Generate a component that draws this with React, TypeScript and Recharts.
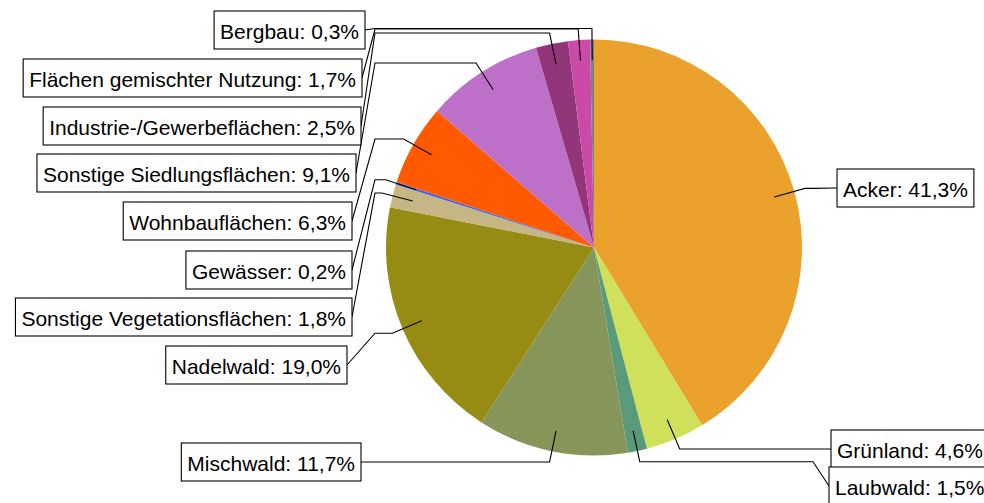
import React from "react";
import { PieChart, Pie, Cell } from "recharts";

const categories = [
  "Acker",
  "Grünland",
  "Laubwald",
  "Mischwald",
  "Nadelwald",
  "Sonstige Vegetationsflächen",
  "Gewässer",
  "Wohnbauflächen",
  "Sonstige Siedlungsflächen",
  "Industrie-/Gewerbeflächen",
  "Flächen gemischter Nutzung",
  "Bergbau",
];

const shares = [41.3, 4.6, 1.5, 11.7, 19.0, 1.8, 0.2, 6.3, 9.1, 2.5, 1.7, 0.3];

const colors = [
  "#EAA22C",
  "#D1E05A",
  "#599A7B",
  "#86965A",
  "#968C14",
  "#C6B686",
  "#3E62F0",
  "#FF5A00",
  "#BD70C8",
  "#933679",
  "#CB4AA8",
  "#808080",
];

// label box layout: side, x of the edge the leader line meets, top of box
const labelSides = ["right", "right", "right", "left", "left", "left", "left", "left", "left", "left", "left", "left"];
const labelEdgeX = [837, 831, 829, 361, 347, 352, 352, 352, 356, 361, 362, 365];
const labelTop = [169, 430, 467, 443, 346, 298, 251, 202, 154, 107, 59, 11];

const data = categories.map((name, i) => ({ name, value: shares[i] }));

const FONT_SIZE = 21;
const FONT_FAMILY = "'Liberation Sans', Arial, Helvetica, sans-serif";
const RAD = Math.PI / 180;

let ctx: CanvasRenderingContext2D | null = null;
function measure(text: string): number {
  try {
    if (!ctx) {
      const c = document.createElement("canvas");
      ctx = c.getContext("2d");
    }
    if (ctx) {
      ctx.font = `${FONT_SIZE}px ${FONT_FAMILY}`;
      return ctx.measureText(text).width;
    }
  } catch (e) {}
  return text.length * FONT_SIZE * 0.5;
}

function fmt(v: number): string {
  return v.toFixed(1).replace(".", ",") + "%";
}

function renderLabel(props: any) {
  const { cx, cy, midAngle, outerRadius, index } = props;
  const cos = Math.cos(-midAngle * RAD);
  const sin = Math.sin(-midAngle * RAD);
  const sx = cx + outerRadius * 0.9 * cos;
  const sy = cy + outerRadius * 0.9 * sin;
  const bx = cx + outerRadius * 1.053 * cos;
  const by = cy + outerRadius * 1.053 * sin;
  const right = labelSides[index] === "right";
  const kneeX = right
    ? Math.max(bx, cx + outerRadius * 1.053)
    : Math.min(bx, cx - outerRadius * 1.053);
  const text = `${categories[index]}: ${fmt(shares[index])}`;
  const pad = 6;
  const boxH = 38;
  const w = measure(text) + pad * 2;
  const edge = labelEdgeX[index];
  const top = labelTop[index];
  const boxX = right ? edge : edge - w;
  const midY = top + boxH / 2;
  return (
    <g key={`lbl-${index}`}>
      <polyline
        points={`${sx},${sy} ${bx},${by} ${kneeX},${by} ${edge},${midY}`}
        fill="none"
        stroke="#000"
        strokeWidth={1.1}
      />
      <rect x={boxX} y={top} width={w} height={boxH} fill="#fff" stroke="#000" strokeWidth={1.1} />
      <text
        x={boxX + pad}
        y={top + 28}
        fontSize={FONT_SIZE}
        fontFamily={FONT_FAMILY}
        fill="#000"
      >
        {text}
      </text>
    </g>
  );
}

export default function App() {
  return (
    <div style={{ position: "absolute", left: 0, top: 0, width: 984, height: 503, background: "#fff" }}>
      <PieChart width={984} height={503} margin={{ top: 0, right: 0, bottom: 0, left: 0 }}>
        <Pie
          data={data}
          dataKey="value"
          nameKey="name"
          cx={594}
          cy={247.5}
          outerRadius={208}
          startAngle={90}
          endAngle={-270}
          stroke="none"
          label={renderLabel}
          labelLine={false}
          isAnimationActive={false}
        >
          {data.map((d, i) => (
            <Cell key={d.name} fill={colors[i]} />
          ))}
        </Pie>
      </PieChart>
    </div>
  );
}
